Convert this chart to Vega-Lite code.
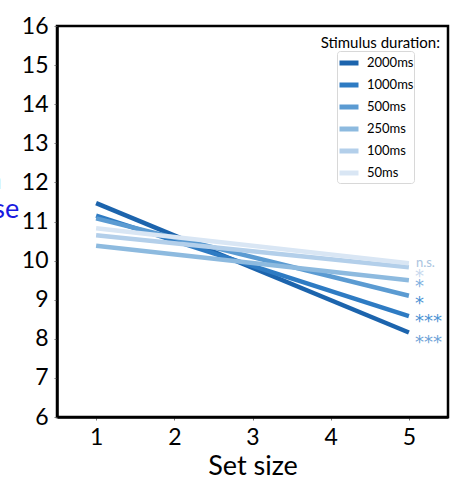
{
  "$schema": "https://vega.github.io/schema/vega-lite/v6.json",
  "width": 391,
  "height": 391,
  "autosize": {"type": "none"},
  "padding": {"left": 57, "top": 26, "right": 9, "bottom": 65},
  "background": "white",
  "title": {"text": "Stimulus duration:", "anchor": "end", "frame": "group", "orient": "top", "font": "Lato", "fontSize": 15, "fontWeight": "normal", "color": "black", "baseline": "middle", "offset": 0, "dx": -8, "dy": 43},
  "config": {
    "font": "Lato",
    "view": {"stroke": "black", "strokeWidth": 2.5},
    "axis": {"domainColor": "black", "domainWidth": 2.5, "tickColor": "#777", "tickSize": 3, "tickWidth": 1, "labelFont": "Lato", "labelFontSize": 23, "labelColor": "black", "labelOverlap": false, "grid": false, "titleFont": "Lato", "titleFontWeight": "normal", "titleColor": "black"}
  },
  "datasets": {
    "lines": [
      {"duration": "2000ms", "set_size": 1, "value": 11.47},
      {"duration": "2000ms", "set_size": 5, "value": 8.16},
      {"duration": "1000ms", "set_size": 1, "value": 11.15},
      {"duration": "1000ms", "set_size": 5, "value": 8.58},
      {"duration": "500ms", "set_size": 1, "value": 11.08},
      {"duration": "500ms", "set_size": 5, "value": 9.1},
      {"duration": "250ms", "set_size": 1, "value": 10.38},
      {"duration": "250ms", "set_size": 5, "value": 9.5},
      {"duration": "100ms", "set_size": 1, "value": 10.65},
      {"duration": "100ms", "set_size": 5, "value": 9.83},
      {"duration": "50ms", "set_size": 1, "value": 10.83},
      {"duration": "50ms", "set_size": 5, "value": 9.93}
    ],
    "labels": [
      {"duration": "50ms", "set_size": 5, "label_pos": 9.94, "label": "n.s."},
      {"duration": "100ms", "set_size": 5, "label_pos": 9.71, "label": "*"},
      {"duration": "250ms", "set_size": 5, "label_pos": 9.45, "label": "*"},
      {"duration": "500ms", "set_size": 5, "label_pos": 9.01, "label": "*"},
      {"duration": "1000ms", "set_size": 5, "label_pos": 8.55, "label": "***"},
      {"duration": "2000ms", "set_size": 5, "label_pos": 8.03, "label": "***"}
    ]
  },
  "layer": [
    {
      "data": {"name": "lines"},
      "mark": {"type": "line", "strokeWidth": 4.5, "strokeCap": "butt"},
      "encoding": {
        "x": {"field": "set_size", "type": "quantitative", "scale": {"domain": [0.5, 5.5], "nice": false, "zero": false},
          "axis": {"values": [1, 2, 3, 4, 5], "format": "d", "title": "Set size", "titleFontSize": 27, "titlePadding": 4, "labelPadding": 6}},
        "y": {"field": "value", "type": "quantitative", "scale": {"domain": [6, 16], "nice": false, "zero": false},
          "axis": {"values": [6, 7, 8, 9, 10, 11, 12, 13, 14, 15, 16], "format": "d", "labelOverlap": false, "tickCount": 11, "labelPadding": 6, "title": ["Median", "response"], "titleAngle": 0, "titleColor": "#1a1ae0", "titleFontSize": 27, "titleAlign": "left", "titleBaseline": "alphabetic", "titleX": -145, "titleY": 162, "titleLineHeight": 29}},
        "color": {"field": "duration", "type": "nominal",
          "scale": {"domain": ["2000ms", "1000ms", "500ms", "250ms", "100ms", "50ms"], "range": ["#1c64ad", "#2e7bc3", "#5b9bd2", "#8dbadf", "#b3cfea", "#d9e6f4"]},
          "legend": {"orient": "none", "legendX": 280, "legendY": 25, "title": null, "direction": "vertical", "symbolType": "stroke", "symbolSize": 361, "symbolStrokeWidth": 5, "labelFont": "Lato", "labelFontSize": 13, "labelColor": "black", "rowPadding": 0, "padding": 0, "strokeColor": "#d8d8d8", "cornerRadius": 3, "labelOffset": 6, "fillColor": "white"}}
      }
    },
    {
      "data": {"name": "labels"},
      "transform": [{"filter": "datum.label == 'n.s.'"}],
      "mark": {"type": "text", "align": "left", "baseline": "middle", "dx": 7, "fontSize": 13, "font": "Lato"},
      "encoding": {
        "x": {"field": "set_size", "type": "quantitative"},
        "y": {"field": "label_pos", "type": "quantitative"},
        "text": {"field": "label"},
        "color": {"field": "duration", "type": "nominal",
          "scale": {"domain": ["2000ms", "1000ms", "500ms", "250ms", "100ms", "50ms"], "range": ["#6fa3d8", "#4d93d4", "#4d93d4", "#7fb0df", "#c8d9ee", "#aac4e0"]},
          "legend": null}
      }
    },
    {
      "data": {"name": "labels"},
      "transform": [{"filter": "datum.label != 'n.s.'"}],
      "mark": {"type": "text", "align": "left", "baseline": "middle", "dx": 6, "dy": 5, "fontSize": 18, "font": "DejaVu Sans"},
      "encoding": {
        "x": {"field": "set_size", "type": "quantitative"},
        "y": {"field": "label_pos", "type": "quantitative"},
        "text": {"field": "label"},
        "color": {"field": "duration", "type": "nominal",
          "scale": {"domain": ["2000ms", "1000ms", "500ms", "250ms", "100ms", "50ms"], "range": ["#6fa3d8", "#4d93d4", "#4d93d4", "#7fb0df", "#c8d9ee", "#aac4e0"]},
          "legend": null}
      }
    }
  ],
  "resolve": {"scale": {"color": "independent"}}
}
